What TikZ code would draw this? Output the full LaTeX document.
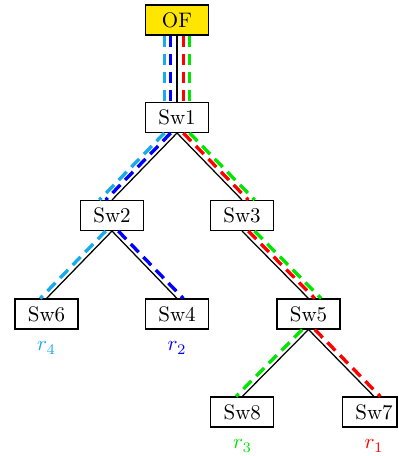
\documentclass[tikz,border=0pt]{standalone}
\definecolor{rcyan}{RGB}{25,170,235}
\definecolor{rblue}{RGB}{0,0,255}
\definecolor{rred}{RGB}{255,0,0}
\definecolor{rgreen}{RGB}{0,230,0}
\definecolor{ofyellow}{RGB}{255,230,0}
\tikzset{
  sw/.style={draw, line width=0.6pt, minimum width=30pt, minimum height=14.2pt, inner sep=2pt},
  link/.style={line width=0.6pt},
  route/.style={line width=1.6pt, dash pattern=on 5.4pt off 3.2pt},
  lab/.style={inner sep=0pt}
}
\begin{document}
\begin{tikzpicture}[x=0.47619pt, y=-0.47619pt]
\useasboundingbox (0,0) rectangle (398,456);
% nodes
\node[sw, fill=ofyellow] (OF) at (177,20) {OF};
\node[sw] (Sw1) at (177,117.5) {Sw1};
\node[sw] (Sw2) at (112,215.5) {Sw2};
\node[sw] (Sw3) at (242,215.5) {Sw3};
\node[sw] (Sw6) at (46.5,314) {Sw6};
\node[sw] (Sw4) at (177,314) {Sw4};
\node[sw] (Sw5) at (308.5,314) {Sw5};
\node[sw] (Sw8) at (242.3,412) {Sw8};
\node[sw, minimum width=25.7pt] (Sw7) at (369.6,412) {\hspace*{4.2pt}Sw7};
% labels
\node[lab, text=rcyan] (r4) at (46.5,348) {$r_4$};
\node[lab, text=rblue] (r2) at (177,348) {$r_2$};
\node[lab, text=rgreen] (r3) at (242.5,446) {$r_3$};
\node[lab, text=rred] (r1) at (374,446) {$r_1$};
% black links
\draw[link] (OF.south) -- (Sw1.north);
\draw[link] (Sw1.south) -- (Sw2.north);
\draw[link] (Sw1.south) -- (Sw3.north);
\draw[link] (Sw2.south) -- (Sw6.north);
\draw[link] (Sw2.south) -- (Sw4.north);
\draw[link] (Sw3.south) -- (Sw5.north);
\draw[link] (Sw5.south) -- (Sw8.north);
\draw[link] (Sw5.south) -- ([xshift=2.1pt]Sw7.north);
% routes
\draw[route, rcyan] ([xshift=-6pt]OF.south) -- ([xshift=-6pt]Sw1.north);
\draw[route, rblue] ([xshift=-3pt]OF.south) -- ([xshift=-3pt]Sw1.north);
\draw[route, rred] ([xshift=3pt]OF.south) -- ([xshift=3pt]Sw1.north);
\draw[route, rgreen] ([xshift=6pt]OF.south) -- ([xshift=6pt]Sw1.north);
\draw[route, rcyan] ([xshift=-6pt]Sw1.south) -- ([xshift=-6pt]Sw2.north);
\draw[route, rblue] ([xshift=-3pt]Sw1.south) -- ([xshift=-3pt]Sw2.north);
\draw[route, rred] ([xshift=3pt]Sw1.south) -- ([xshift=3pt]Sw3.north);
\draw[route, rgreen] ([xshift=6pt]Sw1.south) -- ([xshift=6pt]Sw3.north);
\draw[route, rcyan] ([xshift=-3pt]Sw2.south) -- ([xshift=-3pt]Sw6.north);
\draw[route, rblue] ([xshift=3pt]Sw2.south) -- ([xshift=3pt]Sw4.north);
\draw[route, rred] ([xshift=3pt]Sw3.south) -- ([xshift=3pt]Sw5.north);
\draw[route, rgreen] ([xshift=6pt]Sw3.south) -- ([xshift=6pt]Sw5.north);
\draw[route, rgreen] ([xshift=-3pt]Sw5.south) -- ([xshift=-3pt]Sw8.north);
\draw[route, rred] ([xshift=3pt]Sw5.south) -- ([xshift=5.1pt]Sw7.north);
\end{tikzpicture}
\end{document}
